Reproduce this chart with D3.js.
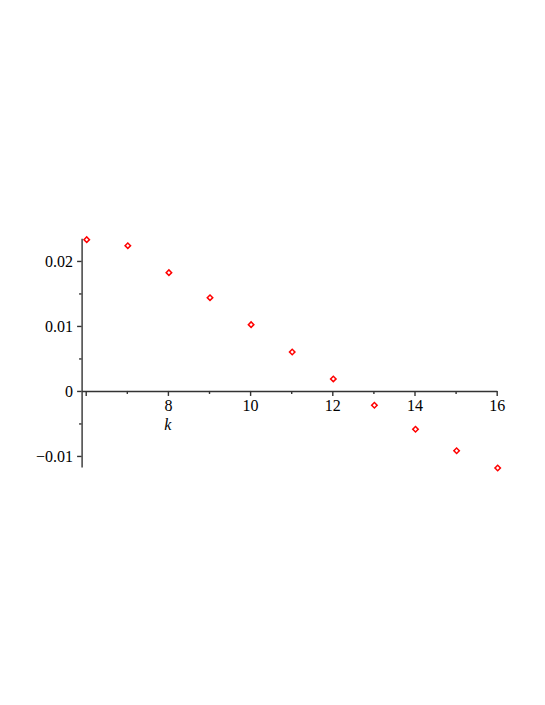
<!DOCTYPE html>
<html>
<head>
<meta charset="utf-8">
<script src="https://cdn.jsdelivr.net/npm/d3@7"></script>
<style>
  body { margin: 0; background: #fff; }
  svg { display: block; }
</style>
</head>
<body>
<svg id="svg" width="545" height="705"></svg>
<script>
// values
var kValues = [6, 7, 8, 9, 10, 11, 12, 13, 14, 15, 16];
var yValues = [0.02328, 0.02235, 0.0182, 0.01435, 0.0102, 0.0060, 0.00185,
               -0.0022, -0.0059, -0.0092, -0.01185];
var xMajorTicks = [6, 8, 10, 12, 14, 16];
var xMinorTicks = [7, 9, 11, 13, 15];
var xTickLabels = ["", "8", "10", "12", "14", "16"];
var yMajorTicks = [0.02, 0.01, 0, -0.01];
var yMinorTicks = [0.015, 0.005, -0.005];
var yTickLabels = ["0.02", "0.01", "0", "\u22120.01"];

var svg = d3.select("#svg");

var x = d3.scaleLinear()
  .domain([5.9, 16])
  .range([81.6, 496.7]);

var y = d3.scaleLinear()
  .domain([-0.0117, 0.0235])
  .range([467, 238.2]);

var font = "'Liberation Serif', 'Times New Roman', serif";
var axisColor = "#333";

// x axis along y = 0
var gx = svg.append("g")
    .attr("transform", "translate(0," + y(0) + ")");

gx.append("g")
    .call(d3.axisBottom(x).tickValues(xMinorTicks).tickSize(3).tickFormat(""))
    .call(g => g.select(".domain").remove());

gx.append("g")
    .call(d3.axisBottom(x)
      .tickValues(xMajorTicks)
      .tickSize(5)
      .tickSizeOuter(0)
      .tickPadding(4)
      .tickFormat((d, i) => xTickLabels[i]));

gx.selectAll("line, path").attr("stroke", axisColor).attr("stroke-width", 1.4);
gx.selectAll("text")
    .style("font-family", font)
    .style("font-size", "16px")
    .attr("fill", "#000");

gx.append("text")
    .attr("x", x(8))
    .attr("y", 39)
    .attr("text-anchor", "middle")
    .style("font-family", font)
    .style("font-style", "italic")
    .style("font-size", "16px")
    .attr("fill", "#000")
    .text("k");

// y axis at left edge
var gy = svg.append("g")
    .attr("transform", "translate(" + x(5.9) + ",0)");

gy.append("g")
    .call(d3.axisLeft(y).tickValues(yMinorTicks).tickSize(2.5).tickFormat(""))
    .call(g => g.select(".domain").remove());

gy.append("g")
    .call(d3.axisLeft(y)
      .tickValues(yMajorTicks)
      .tickSize(4.5)
      .tickSizeOuter(0)
      .tickPadding(4)
      .tickFormat((d, i) => yTickLabels[i]));

gy.selectAll("line, path").attr("stroke", axisColor).attr("stroke-width", 1.4);
gy.selectAll("text")
    .style("font-family", font)
    .style("font-size", "16px")
    .attr("fill", "#000");

// points
var pts = kValues.map((k, i) => ({k: k, v: yValues[i]}));

svg.append("g")
  .selectAll("path")
  .data(pts)
  .join("path")
    .attr("d", d3.symbol(d3.symbolSquare, 15))
    .attr("transform", d => "translate(" + (x(d.k) + 1) + "," + y(d.v) + ") rotate(45)")
    .attr("fill", "#fff")
    .attr("stroke", "#ff0000")
    .attr("stroke-width", 1.5);
</script>
</body>
</html>
